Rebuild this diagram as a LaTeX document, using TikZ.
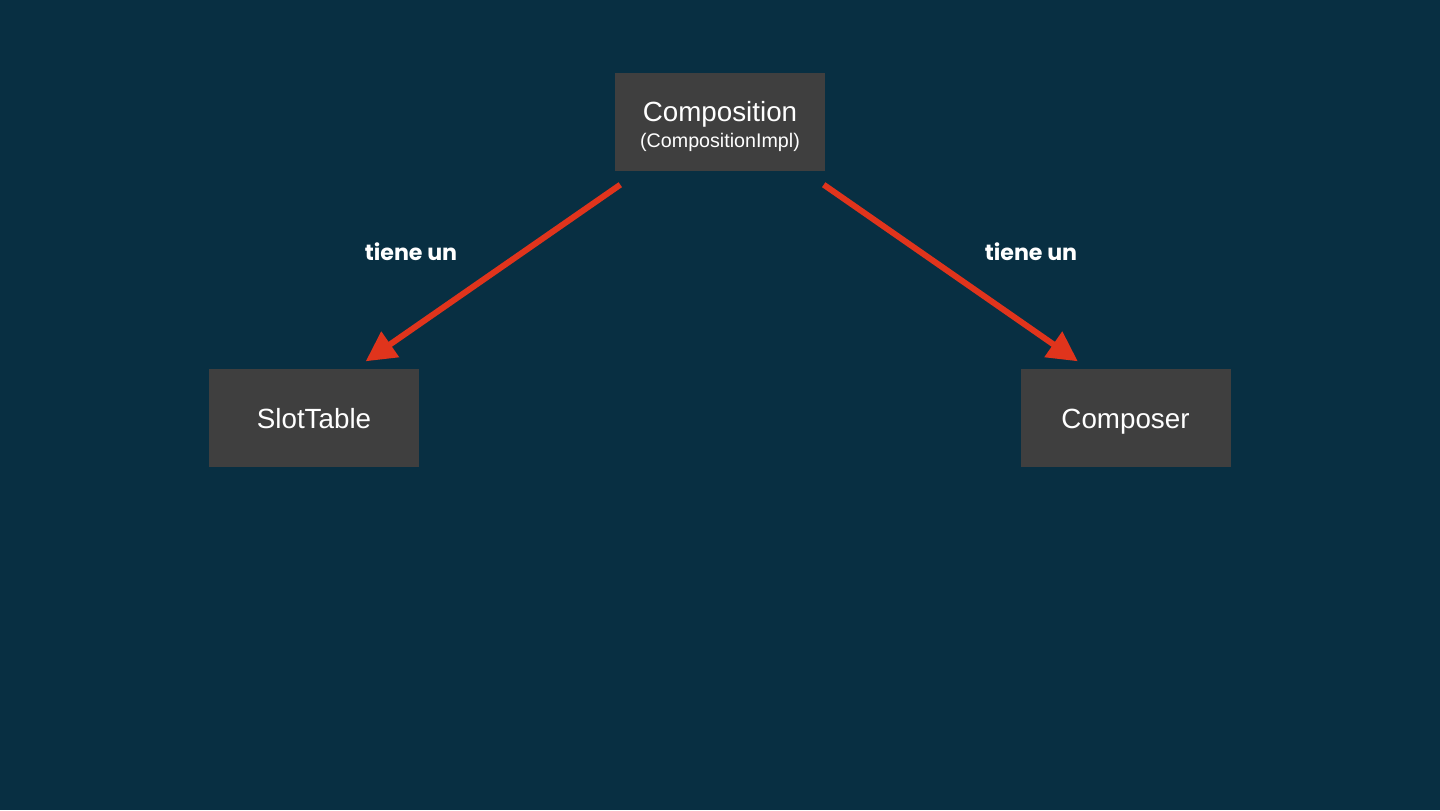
\documentclass[tikz,border=0pt]{standalone}
\usepackage{fontspec}
\setmainfont{Liberation Sans}
\newfontfamily\labelfont{Poppins}
\usetikzlibrary{arrows.meta}

\definecolor{bgblue}{HTML}{082F42}
\definecolor{boxgray}{HTML}{3F3F3F}
\definecolor{arrowred}{HTML}{E0341C}

\tikzset{
  classbox/.style={fill=boxgray, text=white, minimum width=2.1cm, minimum height=0.98cm, inner sep=0pt, align=center, font=\fontsize{7.9}{9.5}\selectfont},
  oneline/.style={text height=5.7pt, text depth=0pt},
  hasarrow/.style={draw=arrowred, line width=1.7pt, -{Triangle[length=8.5pt,width=8.5pt]}},
  relation/.style={text=white, font=\labelfont\bfseries\fontsize{6.3}{7}\selectfont}
}

\begin{document}
\begin{tikzpicture}[scale=1]

\fill[bgblue] (0,0) rectangle (14.4,8.1);
\useasboundingbox (0,0) rectangle (14.4,8.1);

\node [classbox, text height=15.4pt] (comp) at (7.2,6.88) {Composition\\[-2.2pt]{\fontsize{5.6}{7}\selectfont(CompositionImpl)}};
\node [classbox, oneline] (slot) at (3.14,3.92) {SlotTable};
\node [classbox, oneline] (composer) at (11.255,3.92) {Composer};

\draw [hasarrow] ([xshift=0.06cm,yshift=-0.13cm]comp.south west) -- ([xshift=-0.54cm,yshift=0.07cm]slot.north east);
\draw [hasarrow] ([xshift=-0.02cm,yshift=-0.13cm]comp.south east) -- ([xshift=0.58cm,yshift=0.07cm]composer.north west);

\node [relation] (rel1) at (4.11,5.58) {tiene un};
\node [relation] (rel2) at (10.31,5.58) {tiene un};

\end{tikzpicture}
\end{document}
